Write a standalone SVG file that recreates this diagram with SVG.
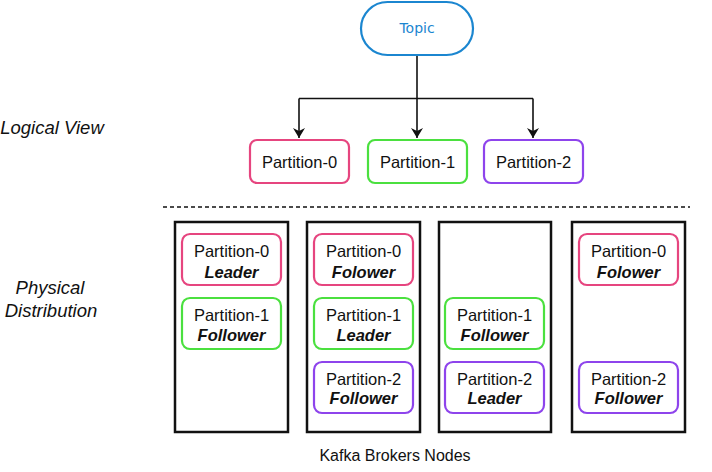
<svg xmlns="http://www.w3.org/2000/svg" width="712" height="472" viewBox="0 0 712 472">
<style>
.t{font-family:"Liberation Sans",Arial,sans-serif;font-size:16.5px;fill:#111;text-anchor:middle}
.b{font-weight:bold;font-style:italic}
.lab{font-family:"Liberation Sans",Arial,sans-serif;font-size:18.5px;font-style:italic;fill:#111;text-anchor:middle}
.p0{fill:#fff;stroke:#e6457f;stroke-width:2.2}
.p1{fill:#fff;stroke:#4be03f;stroke-width:2.2}
.p2{fill:#fff;stroke:#8e44ec;stroke-width:2.2}
.col{fill:#fff;stroke:#111;stroke-width:2.5}
.edge{fill:none;stroke:#111;stroke-width:1.6}
</style>
<defs>
<marker id="arr" viewBox="0 0 10 12" refX="10" refY="6" markerWidth="10" markerHeight="12" markerUnits="userSpaceOnUse" orient="auto">
<path d="M0,0 L10,6 L0,12 L3,6 Z" fill="#111"/>
</marker>
</defs>
<rect width="712" height="472" fill="#fff"/>

<g id="labels">
<text class="lab" x="52" y="134">Logical View</text>
<text class="lab" x="50" y="294">Physical</text>
<text class="lab" x="51" y="317">Distribution</text>
<text x="395" y="461" style="font-family:'Liberation Sans',Arial,sans-serif;font-size:16px;fill:#111;text-anchor:middle">Kafka Brokers Nodes</text>
</g>

<g id="connectors">
<path class="edge" d="M417,55 V98.5"/>
<path class="edge" d="M299,98.5 H533"/>
<path class="edge" d="M299,98.5 V138" marker-end="url(#arr)"/>
<path class="edge" d="M417,98.5 V138" marker-end="url(#arr)"/>
<path class="edge" d="M533,98.5 V138" marker-end="url(#arr)"/>
<line x1="163" y1="207" x2="690" y2="207" stroke="#111" stroke-width="1.4" stroke-dasharray="4 3"/>
</g>

<g id="topic">
<rect x="361" y="2" width="112" height="53" rx="26.5" fill="#fff" stroke="#1b86d0" stroke-width="2.2"/>
<text x="417" y="33" style="font-family:'DejaVu Sans',Verdana,sans-serif;font-size:14px;fill:#1b86d0;text-anchor:middle">Topic</text>
</g>

<g id="lp0"><rect class="p0" x="250" y="140" width="99" height="43" rx="7"/><text class="t" x="299.5" y="168">Partition-0</text></g>
<g id="lp1"><rect class="p1" x="368" y="140" width="99" height="43" rx="7"/><text class="t" x="417.5" y="168">Partition-1</text></g>
<g id="lp2"><rect class="p2" x="484" y="140" width="99" height="43" rx="7"/><text class="t" x="533.5" y="168">Partition-2</text></g>

<g id="broker1">
<rect class="col" x="175" y="222" width="113" height="210"/>
<rect class="p0" x="182" y="234" width="99" height="51" rx="8"/>
<text class="t" x="231.5" y="257">Partition-0</text><text class="t b" x="231.5" y="278">Leader</text>
<rect class="p1" x="182" y="298" width="99" height="51" rx="8"/>
<text class="t" x="231.5" y="321">Partition-1</text><text class="t b" x="231.5" y="341">Follower</text>
</g>

<g id="broker2">
<rect class="col" x="307" y="222" width="113" height="210"/>
<rect class="p0" x="314" y="234" width="99" height="51" rx="8"/>
<text class="t" x="363.5" y="257">Partition-0</text><text class="t b" x="363.5" y="278">Folower</text>
<rect class="p1" x="314" y="298" width="99" height="51" rx="8"/>
<text class="t" x="363.5" y="321">Partition-1</text><text class="t b" x="363.5" y="341">Leader</text>
<rect class="p2" x="314" y="362" width="99" height="51" rx="8"/>
<text class="t" x="363.5" y="385">Partition-2</text><text class="t b" x="363.5" y="404">Follower</text>
</g>

<g id="broker3">
<rect class="col" x="439" y="222" width="112" height="210"/>
<rect class="p1" x="445" y="298" width="99" height="51" rx="8"/>
<text class="t" x="494.5" y="321">Partition-1</text><text class="t b" x="494.5" y="341">Follower</text>
<rect class="p2" x="445" y="362" width="99" height="51" rx="8"/>
<text class="t" x="494.5" y="385">Partition-2</text><text class="t b" x="494.5" y="404">Leader</text>
</g>

<g id="broker4">
<rect class="col" x="572" y="222" width="113" height="210"/>
<rect class="p0" x="579" y="234" width="99" height="51" rx="8"/>
<text class="t" x="628.5" y="257">Partition-0</text><text class="t b" x="628.5" y="278">Folower</text>
<rect class="p2" x="579" y="362" width="99" height="51" rx="8"/>
<text class="t" x="628.5" y="385">Partition-2</text><text class="t b" x="628.5" y="404">Follower</text>
</g>
</svg>
